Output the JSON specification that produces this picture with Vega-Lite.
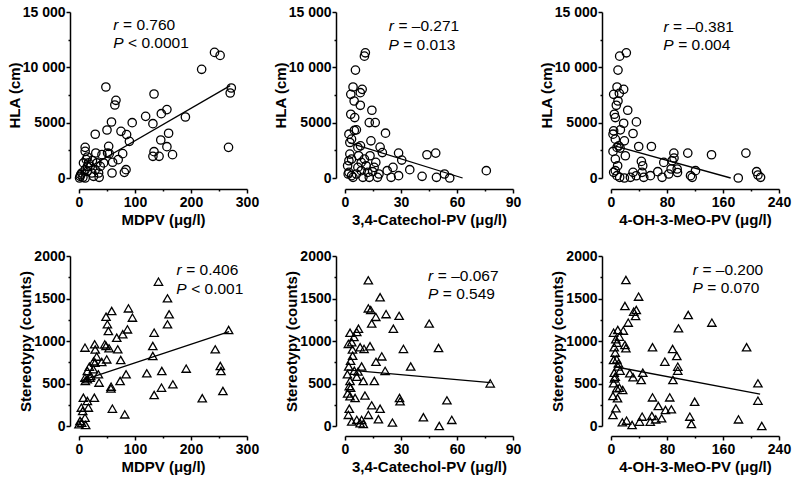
{
"$schema": "https://vega.github.io/schema/vega-lite/v6.json",
"padding": {"left": 7, "top": 5, "right": 5, "bottom": 2},
"background": "white",
"config": {
  "view": {"stroke": null},
  "font": "Liberation Sans",
  "axis": {"grid": false, "domainColor": "black", "domainWidth": 1.5, "tickColor": "black", "tickWidth": 1.5,
    "labelColor": "black", "labelFont": "Liberation Sans", "labelFontWeight": "bold", "labelFontSize": 14, "labelPadding": 1,
    "labelFlush": false, "labelOverlap": false,
    "titleColor": "black", "titleFont": "Liberation Sans", "titleFontWeight": "bold", "titleFontSize": 15, "titlePadding": 0},
  "axisX": {"labelPadding": 2, "titlePadding": 3}
},
"datasets": {
  "p1": [{"x":242,"y":11350},{"x":252,"y":11080},{"x":219,"y":9820},{"x":272,"y":8130},{"x":270,"y":7680},{"x":267,"y":2770},{"x":48,"y":8220},{"x":66,"y":7020},{"x":64,"y":6600},{"x":134,"y":7590},{"x":119,"y":5570},{"x":132,"y":4910},{"x":157,"y":6180},{"x":147,"y":5810},{"x":190,"y":5510},{"x":160,"y":4040},{"x":146,"y":3430},{"x":157,"y":2830},{"x":134,"y":2380},{"x":132,"y":1960},{"x":143,"y":1960},{"x":167,"y":2110},{"x":95,"y":5000},{"x":58,"y":5060},{"x":50,"y":4340},{"x":75,"y":4220},{"x":85,"y":3920},{"x":90,"y":3310},{"x":29,"y":3950},{"x":11,"y":2770},{"x":53,"y":2860},{"x":51,"y":2260},{"x":54,"y":2200},{"x":60,"y":1420},{"x":70,"y":1660},{"x":78,"y":2200},{"x":84,"y":750},{"x":81,"y":510},{"x":59,"y":450},{"x":35,"y":450},{"x":36,"y":60},{"x":15,"y":1900},{"x":13,"y":1660},{"x":8,"y":1360},{"x":15,"y":1050},{"x":24,"y":1570},{"x":30,"y":2260},{"x":32,"y":1360},{"x":20,"y":1050},{"x":11,"y":750},{"x":5,"y":450},{"x":2,"y":150},{"x":7,"y":60},{"x":11,"y":0},{"x":15,"y":600},{"x":23,"y":450},{"x":26,"y":150},{"x":38,"y":1050},{"x":44,"y":1360},{"x":11,"y":2410},{"x":17,"y":1360},{"x":29,"y":750},{"x":1,"y":0},{"x":41,"y":2110},{"x":3,"y":300}],
  "l1": [{"x":2,"y":500},{"x":270,"y":8350}],
  "a1": [{"x":70.6,"y":13825,"letter":"r","rest":"= 0.760"},{"x":79.6,"y":12170,"letter":"P","rest":"< 0.0001"}],
  "p2": [{"x":10.4,"y":11010},{"x":10.9,"y":11310},{"x":5.6,"y":9750},{"x":4.3,"y":8220},{"x":3.1,"y":7560},{"x":8.2,"y":7710},{"x":9.2,"y":8010},{"x":4.9,"y":6960},{"x":8.2,"y":6570},{"x":3.1,"y":5760},{"x":5.2,"y":5460},{"x":14.4,"y":6120},{"x":13.0,"y":5010},{"x":16.2,"y":5010},{"x":2.1,"y":3960},{"x":6.1,"y":4350},{"x":3.5,"y":3510},{"x":21.7,"y":4050},{"x":13.9,"y":3360},{"x":8.3,"y":2910},{"x":6.9,"y":2760},{"x":18.8,"y":2790},{"x":13.4,"y":2010},{"x":2.6,"y":3210},{"x":28.7,"y":2250},{"x":30.4,"y":1620},{"x":43.9,"y":2100},{"x":48.6,"y":2250},{"x":34.7,"y":750},{"x":41.3,"y":150},{"x":49.0,"y":60},{"x":53.3,"y":360},{"x":56.1,"y":0},{"x":75.7,"y":660},{"x":28.7,"y":210},{"x":24.7,"y":60},{"x":22.6,"y":660},{"x":25.7,"y":960},{"x":18.2,"y":360},{"x":15.6,"y":960},{"x":16.5,"y":1410},{"x":2.6,"y":2160},{"x":3.5,"y":1710},{"x":2.1,"y":1560},{"x":1.4,"y":1110},{"x":2.1,"y":510},{"x":3.5,"y":210},{"x":4.3,"y":60},{"x":6.9,"y":960},{"x":8.7,"y":660},{"x":8.7,"y":1410},{"x":9.6,"y":60},{"x":12.2,"y":510},{"x":13.0,"y":60},{"x":14.8,"y":570},{"x":6.1,"y":360},{"x":7.3,"y":2010},{"x":10.4,"y":1710},{"x":11.3,"y":1110},{"x":17.4,"y":60},{"x":1.7,"y":360},{"x":20,"y":2300},{"x":5,"y":4300}],
  "l2": [{"x":2,"y":3200},{"x":63,"y":0}],
  "a2": [{"x":26.2,"y":13735,"letter":"r","rest":"= –0.271"},{"x":28.8,"y":12018,"letter":"P","rest":"= 0.013"}],
  "p3": [{"x":21.9,"y":11310},{"x":12.4,"y":11010},{"x":10.0,"y":9750},{"x":8.6,"y":8220},{"x":18.1,"y":8010},{"x":11.9,"y":7650},{"x":3.8,"y":7560},{"x":10.0,"y":6960},{"x":7.6,"y":6570},{"x":23.9,"y":6120},{"x":4.8,"y":5760},{"x":6.2,"y":5460},{"x":18.1,"y":4950},{"x":36.3,"y":5070},{"x":13.4,"y":4350},{"x":3.8,"y":4260},{"x":2.9,"y":3960},{"x":31.5,"y":4020},{"x":19.1,"y":3360},{"x":6.2,"y":3510},{"x":39.6,"y":2850},{"x":57.7,"y":2850},{"x":8.6,"y":2760},{"x":11.0,"y":2910},{"x":20.5,"y":2010},{"x":2.9,"y":2400},{"x":6.2,"y":1710},{"x":9.5,"y":1110},{"x":43.4,"y":1500},{"x":45.3,"y":1110},{"x":75.4,"y":1410},{"x":87.3,"y":1560},{"x":89.8,"y":2250},{"x":109.7,"y":2250},{"x":143.6,"y":2100},{"x":192.7,"y":2250},{"x":85.9,"y":810},{"x":94.5,"y":810},{"x":82.5,"y":360},{"x":66.8,"y":570},{"x":56.3,"y":210},{"x":113.6,"y":210},{"x":120.7,"y":660},{"x":181.8,"y":0},{"x":208.0,"y":570},{"x":209.9,"y":270},{"x":213.7,"y":60},{"x":31.5,"y":510},{"x":27.7,"y":60},{"x":19.1,"y":0},{"x":44.4,"y":510},{"x":46.8,"y":60},{"x":6.2,"y":660},{"x":3.8,"y":510},{"x":8.6,"y":210},{"x":12.4,"y":60},{"x":73,"y":60},{"x":95,"y":500},{"x":116,"y":60},{"x":36,"y":200},{"x":90,"y":1800},{"x":13,"y":2700}],
  "l3": [{"x":4,"y":2930},{"x":171,"y":0}],
  "a3": [{"x":82.3,"y":13672,"letter":"r","rest":"= –0.381"},{"x":89.5,"y":12018,"letter":"P","rest":"= 0.004"}],
  "p4": [{"x":141.9,"y":1698},{"x":158.0,"y":1502},{"x":161.0,"y":1314},{"x":158.0,"y":1196},{"x":267.2,"y":1130},{"x":88.3,"y":1384},{"x":95.4,"y":1275},{"x":58.4,"y":1353},{"x":48.3,"y":1286},{"x":50.7,"y":1196},{"x":52.5,"y":1118},{"x":67.4,"y":1039},{"x":78.1,"y":1079},{"x":86.5,"y":1137},{"x":134.2,"y":1098},{"x":131.8,"y":941},{"x":131.8,"y":824},{"x":48.3,"y":941},{"x":53.7,"y":914},{"x":69.2,"y":902},{"x":74.5,"y":777},{"x":28.0,"y":961},{"x":10.7,"y":922},{"x":31.6,"y":816},{"x":49.5,"y":784},{"x":243.3,"y":902},{"x":28.6,"y":745},{"x":40.6,"y":753},{"x":18.5,"y":698},{"x":25.6,"y":667},{"x":14.9,"y":647},{"x":34.6,"y":608},{"x":20.9,"y":588},{"x":10.7,"y":569},{"x":19.7,"y":569},{"x":14.9,"y":549},{"x":11.3,"y":529},{"x":35.8,"y":510},{"x":84.1,"y":608},{"x":121.1,"y":620},{"x":147.9,"y":647},{"x":191.4,"y":675},{"x":252.3,"y":706},{"x":253.5,"y":647},{"x":257.0,"y":412},{"x":134.2,"y":365},{"x":147.3,"y":451},{"x":167.6,"y":490},{"x":220.1,"y":326},{"x":57.3,"y":463},{"x":73.4,"y":529},{"x":59.6,"y":204},{"x":81.7,"y":137},{"x":27.4,"y":333},{"x":7.8,"y":333},{"x":14.9,"y":294},{"x":16.7,"y":216},{"x":6.6,"y":176},{"x":10.7,"y":98},{"x":1.8,"y":59},{"x":4.8,"y":39},{"x":11.9,"y":12},{"x":0,"y":20},{"x":4.2,"y":216},{"x":57,"y":440},{"x":29,"y":900},{"x":26,"y":760},{"x":46,"y":960}],
  "l4": [{"x":3,"y":530},{"x":268,"y":1110}],
  "a4": [{"x":183.4,"y":1835,"letter":"r","rest":"= 0.406"},{"x":192.3,"y":1612,"letter":"P","rest":"< 0.001"}],
  "p5": [{"x":12.5,"y":1714},{"x":18.8,"y":1515},{"x":12.5,"y":1384},{"x":13.8,"y":1364},{"x":16.5,"y":1284},{"x":14.3,"y":1205},{"x":22.0,"y":1316},{"x":29.0,"y":1296},{"x":25.9,"y":1145},{"x":45.1,"y":1205},{"x":7.2,"y":1145},{"x":6.3,"y":1105},{"x":2.7,"y":1097},{"x":4.8,"y":1046},{"x":3.6,"y":986},{"x":1.8,"y":966},{"x":8.1,"y":926},{"x":10.2,"y":907},{"x":13.4,"y":938},{"x":31.3,"y":907},{"x":50.1,"y":918},{"x":19.7,"y":819},{"x":16.6,"y":755},{"x":4.1,"y":827},{"x":35.2,"y":700},{"x":21.5,"y":648},{"x":8.9,"y":700},{"x":3.0,"y":767},{"x":1.3,"y":608},{"x":6.3,"y":580},{"x":2.7,"y":529},{"x":15.7,"y":529},{"x":9.8,"y":529},{"x":2.3,"y":469},{"x":1.4,"y":382},{"x":2.7,"y":350},{"x":5.4,"y":330},{"x":77.8,"y":501},{"x":10.7,"y":358},{"x":29.2,"y":330},{"x":29.5,"y":290},{"x":54.6,"y":302},{"x":14.3,"y":243},{"x":18.8,"y":203},{"x":2.3,"y":203},{"x":1.8,"y":131},{"x":12.5,"y":131},{"x":8.9,"y":72},{"x":6.3,"y":72},{"x":3.6,"y":52},{"x":9.8,"y":24},{"x":17.9,"y":80},{"x":25.4,"y":40},{"x":42.0,"y":103},{"x":50.5,"y":0},{"x":57.2,"y":72},{"x":8.1,"y":32},{"x":5,"y":650},{"x":4,"y":900},{"x":7,"y":640},{"x":3,"y":450},{"x":2,"y":700}],
  "l5": [{"x":1,"y":660},{"x":78,"y":510}],
  "a5": [{"x":47.3,"y":1770,"letter":"r","rest":"= –0.067"},{"x":50.0,"y":1551,"letter":"P","rest":"= 0.549"}],
  "p6": [{"x":21.3,"y":1718},{"x":39.4,"y":1522},{"x":19.9,"y":1412},{"x":36.1,"y":1365},{"x":32.4,"y":1345},{"x":35.1,"y":1294},{"x":24.6,"y":1216},{"x":110.3,"y":1306},{"x":144.1,"y":1216},{"x":96.4,"y":1149},{"x":193.7,"y":926},{"x":3.7,"y":1098},{"x":9.7,"y":1130},{"x":17.6,"y":1122},{"x":12.0,"y":1051},{"x":6.9,"y":1020},{"x":8.3,"y":980},{"x":19.9,"y":953},{"x":21.3,"y":914},{"x":4.6,"y":926},{"x":59.3,"y":926},{"x":88.0,"y":906},{"x":6.0,"y":863},{"x":8.3,"y":784},{"x":3.7,"y":777},{"x":10.7,"y":737},{"x":76.9,"y":757},{"x":94.0,"y":824},{"x":95.4,"y":698},{"x":95.4,"y":651},{"x":13.0,"y":651},{"x":4.6,"y":627},{"x":6.0,"y":580},{"x":26.9,"y":620},{"x":31.5,"y":573},{"x":45.4,"y":627},{"x":43.1,"y":541},{"x":88.5,"y":541},{"x":3.7,"y":502},{"x":8.3,"y":443},{"x":16.7,"y":424},{"x":2.8,"y":353},{"x":9.3,"y":326},{"x":59.3,"y":337},{"x":83.9,"y":337},{"x":119.5,"y":286},{"x":67.6,"y":235},{"x":7.0,"y":208},{"x":2.8,"y":129},{"x":77.8,"y":188},{"x":86.2,"y":196},{"x":112.6,"y":110},{"x":114.9,"y":24},{"x":209.9,"y":502},{"x":209.9,"y":298},{"x":182.1,"y":78},{"x":215.4,"y":0},{"x":16.2,"y":43},{"x":22.2,"y":63},{"x":30.1,"y":12},{"x":44.5,"y":110},{"x":40.8,"y":51},{"x":56.1,"y":51},{"x":58.4,"y":118},{"x":63.9,"y":78},{"x":72.3,"y":90},{"x":10,"y":700},{"x":5,"y":560},{"x":12,"y":450}],
  "l6": [{"x":4,"y":700},{"x":213,"y":375}],
  "a6": [{"x":124.2,"y":1839,"letter":"r","rest":"= –0.200"},{"x":131.2,"y":1624,"letter":"P","rest":"= 0.070"}]
},
"bounds": "flush",
"columns": 3,
"spacing": {"row": 78, "column": 98},
"concat": [
  {"width": 168, "height": 166,
   "encoding": {
     "x": {"field": "x", "type": "quantitative", "scale": {"domain": [0, 300], "nice": false, "zero": false}, "axis": {"values": [0, 50, 100, 150, 200, 250, 300], "offset": 11, "title": "MDPV (μg/l)", "tickSize": {"condition": {"test": "datum.value % 100 != 0", "value": 2}, "value": 4}, "labelExpr": "datum.value % 100 != 0 ? '' : datum.label"}},
     "y": {"field": "y", "type": "quantitative", "scale": {"domain": [0, 15000], "nice": false}, "axis": {"values": [0, 2500, 5000, 7500, 10000, 12500, 15000], "offset": 9, "title": "HLA (cm)", "tickSize": {"condition": {"test": "datum.value % 5000 != 0", "value": 2}, "value": 4}, "labelExpr": "datum.value % 5000 != 0 ? '' : datum.value >= 10000 ? format(datum.value / 1000, 'd') + ' 000' : format(datum.value, 'd')"}}},
   "layer": [
     {"data": {"name": "p1"}, "mark": {"type": "point", "shape": "circle", "filled": false, "size": 70, "stroke": "black", "strokeWidth": 1.3, "opacity": 1}},
     {"data": {"name": "l1"}, "mark": {"type": "line", "color": "black", "strokeWidth": 1.3}, "encoding": {}},
     {"data": {"name": "a1"}, "mark": {"type": "text", "align": "right", "baseline": "middle", "fontStyle": "italic", "fontSize": 15.5}, "encoding": {"text": {"field": "letter"}}},
     {"data": {"name": "a1"}, "mark": {"type": "text", "align": "left", "baseline": "middle", "fontSize": 15.5, "dx": 4.5}, "encoding": {"text": {"field": "rest"}}}
   ]},
  {"width": 168, "height": 166,
   "encoding": {
     "x": {"field": "x", "type": "quantitative", "scale": {"domain": [0, 90], "nice": false, "zero": false}, "axis": {"values": [0, 15, 30, 45, 60, 75, 90], "offset": 11, "title": "3,4-Catechol-PV (μg/l)", "tickSize": {"condition": {"test": "datum.value % 30 != 0", "value": 2}, "value": 4}, "labelExpr": "datum.value % 30 != 0 ? '' : datum.label"}},
     "y": {"field": "y", "type": "quantitative", "scale": {"domain": [0, 15000], "nice": false}, "axis": {"values": [0, 2500, 5000, 7500, 10000, 12500, 15000], "offset": 9, "title": "HLA (cm)", "tickSize": {"condition": {"test": "datum.value % 5000 != 0", "value": 2}, "value": 4}, "labelExpr": "datum.value % 5000 != 0 ? '' : datum.value >= 10000 ? format(datum.value / 1000, 'd') + ' 000' : format(datum.value, 'd')"}}},
   "layer": [
     {"data": {"name": "p2"}, "mark": {"type": "point", "shape": "circle", "filled": false, "size": 70, "stroke": "black", "strokeWidth": 1.3, "opacity": 1}},
     {"data": {"name": "l2"}, "mark": {"type": "line", "color": "black", "strokeWidth": 1.3}, "encoding": {}},
     {"data": {"name": "a2"}, "mark": {"type": "text", "align": "right", "baseline": "middle", "fontStyle": "italic", "fontSize": 15.5}, "encoding": {"text": {"field": "letter"}}},
     {"data": {"name": "a2"}, "mark": {"type": "text", "align": "left", "baseline": "middle", "fontSize": 15.5, "dx": 4.5}, "encoding": {"text": {"field": "rest"}}}
   ]},
  {"width": 168, "height": 166,
   "encoding": {
     "x": {"field": "x", "type": "quantitative", "scale": {"domain": [0, 240], "nice": false, "zero": false}, "axis": {"values": [0, 40, 80, 120, 160, 200, 240], "offset": 11, "title": "4-OH-3-MeO-PV (μg/l)", "tickSize": {"condition": {"test": "datum.value % 80 != 0", "value": 2}, "value": 4}, "labelExpr": "datum.value % 80 != 0 ? '' : datum.label"}},
     "y": {"field": "y", "type": "quantitative", "scale": {"domain": [0, 15000], "nice": false}, "axis": {"values": [0, 2500, 5000, 7500, 10000, 12500, 15000], "offset": 9, "title": "HLA (cm)", "tickSize": {"condition": {"test": "datum.value % 5000 != 0", "value": 2}, "value": 4}, "labelExpr": "datum.value % 5000 != 0 ? '' : datum.value >= 10000 ? format(datum.value / 1000, 'd') + ' 000' : format(datum.value, 'd')"}}},
   "layer": [
     {"data": {"name": "p3"}, "mark": {"type": "point", "shape": "circle", "filled": false, "size": 70, "stroke": "black", "strokeWidth": 1.3, "opacity": 1}},
     {"data": {"name": "l3"}, "mark": {"type": "line", "color": "black", "strokeWidth": 1.3}, "encoding": {}},
     {"data": {"name": "a3"}, "mark": {"type": "text", "align": "right", "baseline": "middle", "fontStyle": "italic", "fontSize": 15.5}, "encoding": {"text": {"field": "letter"}}},
     {"data": {"name": "a3"}, "mark": {"type": "text", "align": "left", "baseline": "middle", "fontSize": 15.5, "dx": 4.5}, "encoding": {"text": {"field": "rest"}}}
   ]},
  {"width": 168, "height": 170,
   "encoding": {
     "x": {"field": "x", "type": "quantitative", "scale": {"domain": [0, 300], "nice": false, "zero": false}, "axis": {"values": [0, 50, 100, 150, 200, 250, 300], "offset": 10, "title": "MDPV (μg/l)", "tickSize": {"condition": {"test": "datum.value % 100 != 0", "value": 2}, "value": 4}, "labelExpr": "datum.value % 100 != 0 ? '' : datum.label"}},
     "y": {"field": "y", "type": "quantitative", "scale": {"domain": [0, 2000], "nice": false}, "axis": {"values": [0, 250, 500, 750, 1000, 1250, 1500, 1750, 2000], "offset": 9, "title": "Stereotypy (counts)", "tickSize": {"condition": {"test": "datum.value % 500 != 0", "value": 2}, "value": 4}, "labelExpr": "datum.value % 500 != 0 ? '' : format(datum.value, 'd')"}}},
   "layer": [
     {"data": {"name": "p4"}, "mark": {"type": "point", "shape": "triangle-up", "filled": false, "size": 70, "stroke": "black", "strokeWidth": 1.3, "opacity": 1}},
     {"data": {"name": "l4"}, "mark": {"type": "line", "color": "black", "strokeWidth": 1.3}, "encoding": {}},
     {"data": {"name": "a4"}, "mark": {"type": "text", "align": "right", "baseline": "middle", "fontStyle": "italic", "fontSize": 15.5}, "encoding": {"text": {"field": "letter"}}},
     {"data": {"name": "a4"}, "mark": {"type": "text", "align": "left", "baseline": "middle", "fontSize": 15.5, "dx": 4.5}, "encoding": {"text": {"field": "rest"}}}
   ]},
  {"width": 168, "height": 170,
   "encoding": {
     "x": {"field": "x", "type": "quantitative", "scale": {"domain": [0, 90], "nice": false, "zero": false}, "axis": {"values": [0, 15, 30, 45, 60, 75, 90], "offset": 10, "title": "3,4-Catechol-PV (μg/l)", "tickSize": {"condition": {"test": "datum.value % 30 != 0", "value": 2}, "value": 4}, "labelExpr": "datum.value % 30 != 0 ? '' : datum.label"}},
     "y": {"field": "y", "type": "quantitative", "scale": {"domain": [0, 2000], "nice": false}, "axis": {"values": [0, 250, 500, 750, 1000, 1250, 1500, 1750, 2000], "offset": 9, "title": "Stereotypy (counts)", "tickSize": {"condition": {"test": "datum.value % 500 != 0", "value": 2}, "value": 4}, "labelExpr": "datum.value % 500 != 0 ? '' : format(datum.value, 'd')"}}},
   "layer": [
     {"data": {"name": "p5"}, "mark": {"type": "point", "shape": "triangle-up", "filled": false, "size": 70, "stroke": "black", "strokeWidth": 1.3, "opacity": 1}},
     {"data": {"name": "l5"}, "mark": {"type": "line", "color": "black", "strokeWidth": 1.3}, "encoding": {}},
     {"data": {"name": "a5"}, "mark": {"type": "text", "align": "right", "baseline": "middle", "fontStyle": "italic", "fontSize": 15.5}, "encoding": {"text": {"field": "letter"}}},
     {"data": {"name": "a5"}, "mark": {"type": "text", "align": "left", "baseline": "middle", "fontSize": 15.5, "dx": 4.5}, "encoding": {"text": {"field": "rest"}}}
   ]},
  {"width": 168, "height": 170,
   "encoding": {
     "x": {"field": "x", "type": "quantitative", "scale": {"domain": [0, 240], "nice": false, "zero": false}, "axis": {"values": [0, 40, 80, 120, 160, 200, 240], "offset": 10, "title": "4-OH-3-MeO-PV (μg/l)", "tickSize": {"condition": {"test": "datum.value % 80 != 0", "value": 2}, "value": 4}, "labelExpr": "datum.value % 80 != 0 ? '' : datum.label"}},
     "y": {"field": "y", "type": "quantitative", "scale": {"domain": [0, 2000], "nice": false}, "axis": {"values": [0, 250, 500, 750, 1000, 1250, 1500, 1750, 2000], "offset": 9, "title": "Stereotypy (counts)", "tickSize": {"condition": {"test": "datum.value % 500 != 0", "value": 2}, "value": 4}, "labelExpr": "datum.value % 500 != 0 ? '' : format(datum.value, 'd')"}}},
   "layer": [
     {"data": {"name": "p6"}, "mark": {"type": "point", "shape": "triangle-up", "filled": false, "size": 70, "stroke": "black", "strokeWidth": 1.3, "opacity": 1}},
     {"data": {"name": "l6"}, "mark": {"type": "line", "color": "black", "strokeWidth": 1.3}, "encoding": {}},
     {"data": {"name": "a6"}, "mark": {"type": "text", "align": "right", "baseline": "middle", "fontStyle": "italic", "fontSize": 15.5}, "encoding": {"text": {"field": "letter"}}},
     {"data": {"name": "a6"}, "mark": {"type": "text", "align": "left", "baseline": "middle", "fontSize": 15.5, "dx": 4.5}, "encoding": {"text": {"field": "rest"}}}
   ]}
]
}
